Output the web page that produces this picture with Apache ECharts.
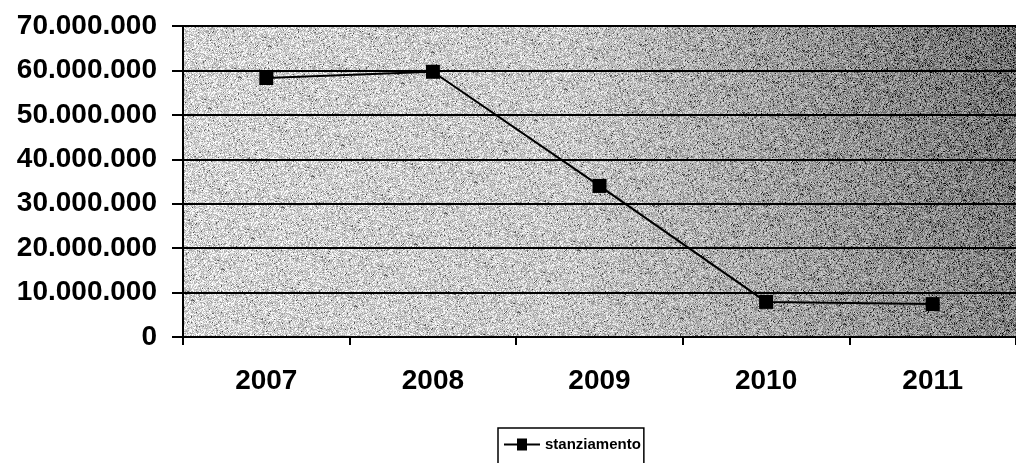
<!DOCTYPE html>
<html>
<head>
<meta charset="utf-8">
<script src="https://cdn.jsdelivr.net/npm/echarts@6/dist/echarts.min.js"></script>
<style>
  html, body { margin: 0; padding: 0; background: #fff; }
  #chart { width: 1016px; height: 463px; }
</style>
</head>
<body>
<div id="chart"></div>
<script>
const years = ["2007", "2008", "2009", "2010", "2011"];
const stanziamento = [58300000, 59700000, 34000000, 7900000, 7400000];
const yMin = 0;
const yMax = 70000000;
const yStep = 10000000;

const plotLeft = 183, plotTop = 26, plotW = 845, plotH = 311;

function fmt(v) {
  return String(v).replace(/\B(?=(\d{3})+(?!\d))/g, ".");
}

// grainy grey fill behind the plot, like the scanned original
function makeTexture(w, h) {
  const c = document.createElement("canvas");
  c.width = w;
  c.height = h;
  const ctx = c.getContext("2d");
  const img = ctx.createImageData(w, h);
  let seed = 12345;
  const rnd = () => {
    seed = (seed * 1103515245 + 12345) & 0x7fffffff;
    return seed / 0x7fffffff;
  };
  for (let y = 0; y < h; y++) {
    for (let x = 0; x < w; x++) {
      const t = x / w;
      const dark = Math.max(0, t - 0.45) * 1.7 * (1 - 0.3 * (y / h));
      const base = 214 - 25 * t - 80 * dark;
      let v = base + (rnd() - 0.5) * 100;
      if (rnd() < 0.035 + 0.14 * dark) v -= 100;
      v = Math.max(0, Math.min(255, v));
      const i = (y * w + x) * 4;
      img.data[i] = img.data[i + 1] = img.data[i + 2] = v;
      img.data[i + 3] = 255;
    }
  }
  ctx.putImageData(img, 0, 0);
  return c.toDataURL();
}

const chart = echarts.init(document.getElementById("chart"));

chart.setOption({
  animation: false,
  textStyle: { fontFamily: "Liberation Sans, Arial, sans-serif" },
  graphic: [
    {
      type: "image",
      left: plotLeft,
      top: plotTop,
      z: -10,
      silent: true,
      style: { image: makeTexture(plotW, plotH), width: plotW, height: plotH },
    },
  ],
  grid: {
    left: plotLeft,
    top: plotTop,
    width: plotW,
    height: plotH,
    show: false,
  },
  legend: {
    top: 428,
    left: 498,
    itemWidth: 36,
    itemHeight: 12,
    itemGap: 4,
    padding: [9, 3, 14, 6],
    borderColor: "#000",
    borderWidth: 1.5,
    textStyle: { color: "#000", fontWeight: "bold", fontSize: 15 },
    data: [{ name: "stanziamento", icon: "path://M0,5 L13,5 L13,0 L23,0 L23,5 L36,5 L36,7 L23,7 L23,12 L13,12 L13,7 L0,7 Z" }],
  },
  xAxis: {
    type: "category",
    data: years,
    boundaryGap: true,
    axisLine: { lineStyle: { color: "#000", width: 2 } },
    axisTick: { show: true, length: 8, lineStyle: { color: "#000", width: 2 } },
    axisLabel: { color: "#000", fontWeight: "bold", fontSize: 28, margin: 30 },
    splitLine: { show: false },
  },
  yAxis: {
    type: "value",
    min: yMin,
    max: yMax,
    interval: yStep,
    axisLine: { show: true, lineStyle: { color: "#000", width: 2 } },
    axisTick: { show: true, length: 11, lineStyle: { color: "#000", width: 2 } },
    axisLabel: { color: "#000", fontWeight: "bold", fontSize: 28, margin: 26, formatter: fmt },
    splitLine: { show: true, lineStyle: { color: "#000", width: 2 } },
  },
  series: [
    {
      name: "stanziamento",
      type: "line",
      data: stanziamento,
      symbol: "rect",
      symbolSize: 14,
      itemStyle: { color: "#000" },
      lineStyle: { color: "#000", width: 2 },
    },
  ],
});
</script>
</body>
</html>
